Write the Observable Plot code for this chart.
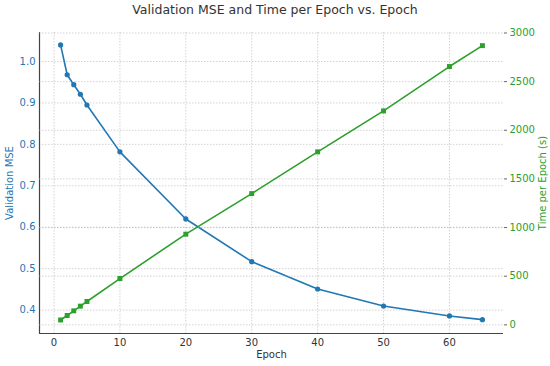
<!DOCTYPE html>
<html>
<head>
<meta charset="utf-8">
<script src="https://cdn.jsdelivr.net/npm/d3@7"></script>
<script src="https://cdn.jsdelivr.net/npm/@observablehq/plot@0.6"></script>
<style>
  html, body { margin: 0; padding: 0; background: #fff; }
  #wrap { position: relative; width: 550px; height: 366px; font-family: "DejaVu Sans", sans-serif; }
  #wrap svg { position: absolute; left: 0; top: 0; background: transparent; }
  #title { position: absolute; left: 0; width: 550px; top: 2px; text-align: center; font-size: 12.5px; color: #333; }
</style>
</head>
<body>
<div id="wrap"><div id="title">Validation MSE and Time per Epoch vs. Epoch</div></div>
<script>
const epochs = [1, 2, 3, 4, 5, 10, 20, 30, 40, 50, 60, 65];
const mse = [1.040, 0.968, 0.944, 0.921, 0.895, 0.782, 0.620, 0.517, 0.451, 0.410, 0.386, 0.377];
const timePerEpoch = [50, 96, 144, 192, 240, 476, 932, 1349, 1778, 2199, 2655, 2870];
const xTicks = [0, 10, 20, 30, 40, 50, 60];
const mseTicks = [0.4, 0.5, 0.6, 0.7, 0.8, 0.9, 1.0];
const timeTicks = [0, 500, 1000, 1500, 2000, 2500, 3000];

const blue = "#1f77b4", green = "#2ca02c";
const W = 550, H = 366;
const margins = {marginTop: 32, marginRight: 47, marginBottom: 33, marginLeft: 39};
const xDomain = [-2.2, 68.2];
const mseDomain = [0.3436, 1.07];
const timeDomain = [-89, 3005];

const mseData = epochs.map((e, i) => ({epoch: e, v: mse[i]}));
const timeData = epochs.map((e, i) => ({epoch: e, v: timePerEpoch[i]}));
const grid = {stroke: "#b0b0b0", strokeOpacity: 0.7, strokeWidth: 0.8, strokeDasharray: "1.5,1.5"};

const p1 = Plot.plot({
  width: W, height: H, ...margins,
  style: {fontFamily: "DejaVu Sans, sans-serif", fontSize: "10px", background: "transparent"},
  x: {domain: xDomain},
  y: {domain: mseDomain},
  marks: [
    Plot.gridX(xTicks, {...grid}),
    Plot.gridY(mseTicks, {...grid}),
    Plot.axisX(xTicks, {tickSize: 0, tickPadding: 5, color: "#333", label: "Epoch", labelAnchor: "center", labelOffset: 24, labelArrow: "none", fontSize: 10}),
    Plot.axisY(mseTicks, {tickSize: 0, tickPadding: 4, color: blue, tickFormat: d3.format(".1f"), label: "Validation MSE", labelAnchor: "center", labelOffset: 34, labelArrow: "none", fontSize: 10}),
    Plot.ruleX([xDomain[0]], {stroke: "#444", strokeWidth: 1.2}),
    Plot.ruleY([mseDomain[0]], {stroke: "#444", strokeWidth: 1.2}),
    Plot.line(mseData, {x: "epoch", y: "v", stroke: blue, strokeWidth: 1.6}),
    Plot.dot(mseData, {x: "epoch", y: "v", fill: blue, r: 2.6, stroke: "none"})
  ]
});

const p2 = Plot.plot({
  width: W, height: H, ...margins,
  style: {fontFamily: "DejaVu Sans, sans-serif", fontSize: "10px", background: "transparent"},
  x: {domain: xDomain, axis: null},
  y: {domain: timeDomain, axis: null},
  marks: [
    Plot.gridY(timeTicks, {...grid}),
    Plot.axisY(timeTicks, {anchor: "right", tickSize: 3, tickPadding: 3, color: green, stroke: "#666", tickFormat: d3.format("d"), label: "Time per Epoch (s)", labelAnchor: "center", labelOffset: 42, labelArrow: "none", fontSize: 10}),
    Plot.line(timeData, {x: "epoch", y: "v", stroke: green, strokeWidth: 1.6}),
    Plot.dot(timeData, {x: "epoch", y: "v", fill: green, symbol: "square", r: 2.8, stroke: "none"})
  ]
});

const wrap = document.getElementById("wrap");
wrap.appendChild(p1);
wrap.appendChild(p2);
</script>
</body>
</html>
